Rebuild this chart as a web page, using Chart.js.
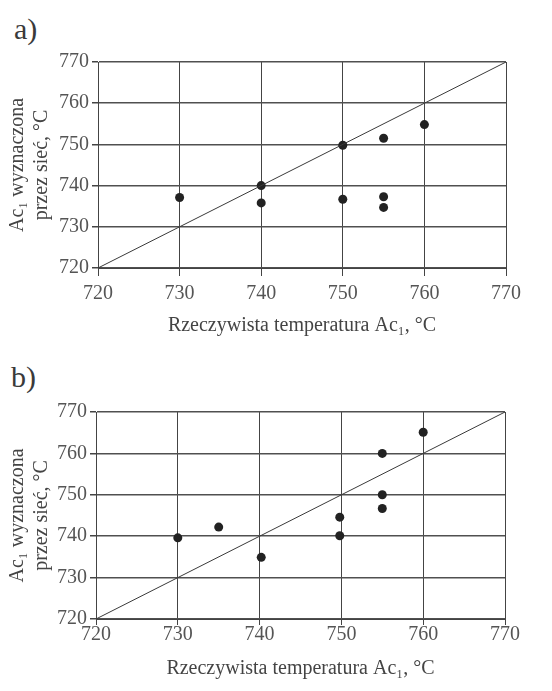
<!DOCTYPE html>
<html>
<head>
<meta charset="utf-8">
<script src="https://cdn.jsdelivr.net/npm/chart.js@4"></script>
<style>
  html, body { margin: 0; padding: 0; background: #fff; }
  body { width: 552px; height: 691px; position: relative; overflow: hidden; }
  canvas { position: absolute; left: 0; }
  .tag { position: absolute; font-family: "Liberation Serif", "DejaVu Serif", serif; font-size: 30px; color: #3a3a3a; line-height: 1; }
</style>
</head>
<body>
<div class="tag" style="left:14px; top:14px;">a)</div>
<div class="tag" style="left:11px; top:362px;">b)</div>
<canvas id="chartA" width="552" height="300" style="top:40px;"></canvas>
<canvas id="chartB" width="552" height="311" style="top:380px;"></canvas>
<script>
// axis range shared by both panels
const axisMin = 720;
const axisMax = 770;
const axisStep = 10;

// y = x reference line
const diagonal = [720, 770];

// panel a) - real Ac1 vs Ac1 from the network
const realA = [730, 740, 740, 750, 750, 755, 755, 755, 760];
const netA = [737.1, 740, 735.8, 749.8, 736.7, 751.5, 737.3, 734.7, 754.8];

// panel b)
const realB = [730, 735, 740.2, 749.8, 749.8, 755, 755, 755, 760];
const netB = [739.6, 742.2, 734.9, 744.6, 740.1, 760, 750, 746.7, 765.1];

const xTitle = 'Rzeczywista temperatura Ac\u2081, \u00B0C';
const yTitle = ['Ac\u2081 wyznaczona', 'przez sie\u0107, \u00B0C'];

const serif = '"Liberation Serif", "DejaVu Serif", serif';

function makeChart(id, real, net, lay) {
    return new Chart(document.getElementById(id), {
        type: 'scatter',
        data: {
            datasets: [
                {
                    type: 'line',
                    data: diagonal.map(v => ({ x: v, y: v })),
                    borderColor: '#3a3a3a',
                    borderWidth: 1,
                    pointRadius: 0,
                    fill: false
                },
                {
                    data: real.map((v, i) => ({ x: v, y: net[i] })),
                    backgroundColor: '#222',
                    borderColor: '#222',
                    pointRadius: 4.5,
                    borderWidth: 0
                }
            ]
        },
        options: {
            animation: false,
            responsive: false,
            layout: { padding: { top: lay.top, right: lay.right, left: 0, bottom: 0 } },
            plugins: {
                legend: { display: false },
                tooltip: { enabled: false }
            },
            scales: {
                x: {
                    type: 'linear',
                    min: axisMin,
                    max: axisMax,
                    afterFit: s => { s.height = lay.xHeight; },
                    grid: { color: '#444', lineWidth: 1, tickLength: lay.xTick, tickColor: '#444' },
                    border: { color: '#444', width: 1 },
                    ticks: {
                        stepSize: axisStep,
                        padding: lay.xPad,
                        color: '#555',
                        font: { family: serif, size: 20, lineHeight: 1 }
                    },
                    title: {
                        display: true,
                        text: xTitle,
                        color: '#444',
                        padding: { top: 0, bottom: lay.xTitlePad },
                        font: { family: serif, size: 20, lineHeight: 1.2 }
                    }
                },
                y: {
                    type: 'linear',
                    min: axisMin,
                    max: axisMax,
                    afterFit: s => { s.width = lay.yWidth; },
                    grid: { color: '#505050', lineWidth: 1.5, tickLength: 6, tickColor: '#444' },
                    border: { color: '#444', width: 1 },
                    ticks: {
                        stepSize: axisStep,
                        padding: 3,
                        color: '#555',
                        font: { family: serif, size: 20, lineHeight: 1 }
                    },
                    title: {
                        display: true,
                        text: yTitle,
                        color: '#444',
                        padding: { top: 6, bottom: 0 },
                        font: { family: serif, size: 20, lineHeight: 1.2 }
                    }
                }
            }
        }
    });
}

makeChart('chartA', realA, netA, { top: 22, right: 46, xHeight: 72, xTick: 8, xPad: 8, xTitlePad: 2, yWidth: 98 });
makeChart('chartB', realB, netB, { top: 32, right: 47, xHeight: 72, xTick: 6, xPad: 0, xTitlePad: 10, yWidth: 96 });
</script>
</body>
</html>
